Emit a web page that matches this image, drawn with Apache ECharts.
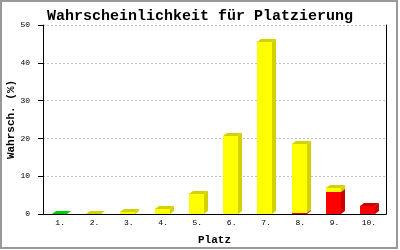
<!DOCTYPE html>
<html><head><meta charset="utf-8">
<script src="https://cdn.jsdelivr.net/npm/echarts@6/dist/echarts.min.js"></script>
<style>html,body{margin:0;padding:0;background:#fff}#c{width:400px;height:250px}</style>
</head><body><div id="c"></div>
<script>
const categories = ['1.','2.','3.','4.','5.','6.','7.','8.','9.','10.'];
const redValues    = [0, 0, 0, 0, 0, 0, 0, 0.2, 5.8, 2.1];
const yellowValues = [0, 0.05, 0.5, 1.4, 5.4, 20.6, 45.5, 18.3, 1.05, 0];
const greenValues  = [0.1, 0, 0, 0, 0, 0, 0, 0, 0, 0];
const yTicks = [0, 10, 20, 30, 40, 50];

const stacks = [
  {name:'rot', values:redValues, face:'#ff0000', dark:'#cc0000'},
  {name:'gelb', values:yellowValues, face:'#ffff00', dark:'#d2d200'},
  {name:'grün', values:greenValues, face:'#00dd00', dark:'#00cc00'}
];
const base = categories.map(()=>0);
const series = stacks.map((s, si) => {
  const data = [];
  s.values.forEach((v, i) => {
    if (v > 0) data.push([i, base[i], base[i] + v]);
    base[i] += v;
  });
  return {
    type:'custom', name:s.name, z: 2 + si,
    renderItem(params, api){
      const cat = api.value(0);
      const p0 = api.coord([cat, api.value(1)]);
      const p1 = api.coord([cat, api.value(2)]);
      const w = 15, dx = 4, dy = 3;
      const x0 = Math.round(p0[0] - 8.5);
      const yB = Math.round(p0[1]);
      const yT = Math.round(p1[1]);
      return {type:'group', children:[
        {type:'polygon', shape:{points:[[x0+w,yB],[x0+w+dx,yB-dy],[x0+w+dx,yT-dy],[x0+w,yT]]}, style:{fill:s.dark}},
        {type:'polygon', shape:{points:[[x0,yT],[x0+dx,yT-dy],[x0+w+dx,yT-dy],[x0+w,yT]]}, style:{fill:s.dark}},
        {type:'rect', shape:{x:x0, y:yT, width:w, height:yB-yT}, style:{fill:s.face}}
      ]};
    },
    data
  };
});

const chart = echarts.init(document.getElementById('c'), null, {renderer:'canvas'});
chart.setOption({
  animation:false,
  backgroundColor:'#fff',
  title:{text:'Wahrscheinlichkeit für Platzierung', left:'center', top:4,
    textStyle:{fontFamily:'Liberation Mono', fontWeight:'bold', fontSize:15, color:'#000'}},
  grid:{left:43, right:14, top:25, bottom:36, containLabel:false, outerBoundsMode:'none'},
  xAxis:{type:'category', data:categories, boundaryGap:true,
    name:'Platz', nameLocation:'middle', nameGap:21, nameMoveOverlap:false,
    nameTextStyle:{fontFamily:'Liberation Mono', fontWeight:'bold', fontSize:11, color:'#000'},
    axisLine:{lineStyle:{color:'#000', width:1}}, axisTick:{show:false},
    axisLabel:{margin:5, fontFamily:'Liberation Mono', fontSize:8, color:'#000'}},
  yAxis:[{type:'value', min:0, max:50, interval:10,
    name:'Wahrsch. (%)', nameLocation:'middle', nameGap:26, nameMoveOverlap:false,
    nameTextStyle:{fontFamily:'Liberation Mono', fontWeight:'bold', fontSize:11, color:'#000'},
    axisLine:{show:true, lineStyle:{color:'#000', width:1}},
    axisTick:{show:true, length:5, lineStyle:{color:'#000'}},
    axisLabel:{margin:13, fontFamily:'Liberation Mono', fontSize:8, color:'#000',
      formatter:v => yTicks.includes(v) ? String(v) : ''},
    splitLine:{show:true, lineStyle:{color:'#c0c0c0', type:[2,2]}}},
   {type:'value', min:0, max:50, interval:10, position:'right',
    axisLine:{show:true, lineStyle:{color:'#000', width:1}},
    axisTick:{show:false}, axisLabel:{show:false}, splitLine:{show:false}}],
  graphic:[{type:'rect', shape:{x:1, y:1, width:396, height:247}, style:{fill:'none', stroke:'#999', lineWidth:2}, z:100}],
  series
});
</script></body></html>
